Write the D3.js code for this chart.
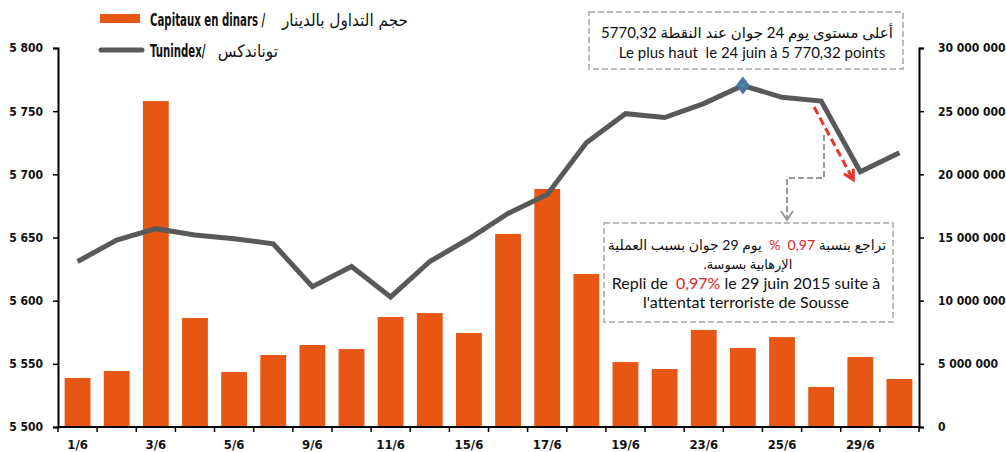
<!DOCTYPE html>
<html>
<head>
<meta charset="utf-8">
<script src="https://cdn.jsdelivr.net/npm/d3@7"></script>
<style>
  body { margin: 0; background: #fff; }
  svg { display: block; }
  .cond { font-family: "Liberation Sans Narrow", "DejaVu Sans Condensed", "DejaVu Sans", sans-serif; font-stretch: condensed; }
  .gill { font-family: "Lato", "Open Sans", "DejaVu Sans", sans-serif; }
  .pre { white-space: pre; }
</style>
</head>
<body>
<svg id="chart" width="1006" height="452"></svg>
<script>
// ---------- DATA ----------
const categories = ["1/6","2/6","3/6","4/6","5/6","8/6","9/6","10/6","11/6","12/6","15/6",
                    "16/6","17/6","18/6","19/6","22/6","23/6","24/6","25/6","26/6","29/6","30/6"];
const capitaux = [3.88e6, 4.43e6, 25.8e6, 8.63e6, 4.35e6, 5.70e6, 6.49e6, 6.17e6, 8.71e6, 9.02e6, 7.44e6,
                  15.28e6, 18.84e6, 12.11e6, 5.14e6, 4.59e6, 7.68e6, 6.25e6, 7.12e6, 3.17e6, 5.54e6, 3.80e6];
const tunindex = [5631, 5648, 5657, 5652, 5649, 5645, 5611, 5627, 5603, 5631, 5649,
                  5669, 5684, 5725, 5748, 5745, 5756, 5770.32, 5761, 5758, 5702, 5717];
const shownLabels = ["1/6","3/6","5/6","9/6","11/6","15/6","17/6","19/6","23/6","25/6","29/6"];
const leftTicks = [5500, 5550, 5600, 5650, 5700, 5750, 5800];
const rightTicks = [0, 5e6, 10e6, 15e6, 20e6, 25e6, 30e6];
const legendBarsFr = "Capitaux en dinars /", legendBarsAr = "حجم التداول بالدينار";
const legendLineFr = "Tunindex/", legendLineAr = "توناندكس";
const peakLabel = "24/6";
const peakAr = "أعلى مستوى يوم 24 جوان عند النقطة 5770,32";
const peakFr = "Le plus haut\u00A0 le 24 juin à 5 770,32 points";
const dropFrom = "26/6", dropTo = "29/6";

// ---------- LAYOUT ----------
const svg = d3.select("#chart");
const L = 58, R = 919, T = 48, B = 427;
const x = d3.scaleBand().domain(categories).range([L, R]).padding(0);
const yL = d3.scaleLinear().domain([5500, 5800]).range([B, T]);
const yR = d3.scaleLinear().domain([0, 30e6]).range([B, T]);
const bw = x.bandwidth();
const cx = d => x(d) + bw / 2;
const fmt = v => d3.format(",")(v).replace(/,/g, " ");

// bars
svg.append("g").selectAll("rect").data(categories).join("rect")
  .attr("x", d => x(d) + bw * 0.17)
  .attr("width", bw * 0.66)
  .attr("y", (d, i) => yR(capitaux[i]))
  .attr("height", (d, i) => B - yR(capitaux[i]))
  .attr("fill", "#e85614");

// line
const line = d3.line().x((d, i) => cx(categories[i])).y(d => yL(d));
svg.append("path").datum(tunindex)
  .attr("d", line).attr("fill", "none")
  .attr("stroke", "#595959").attr("stroke-width", 5);

// axes
const axL = svg.append("g").attr("transform", `translate(${L},0)`)
  .call(d3.axisLeft(yL).tickValues(leftTicks).tickSize(5).tickSizeOuter(5).tickFormat(fmt).tickPadding(10));
const axR = svg.append("g").attr("transform", `translate(${R},0)`)
  .call(d3.axisRight(yR).tickValues(rightTicks).tickSize(5).tickSizeOuter(5).tickFormat(fmt).tickPadding(14));
[axL, axR].forEach(a => {
  a.select(".domain").attr("stroke", "#000").attr("stroke-width", 2);
  a.selectAll(".tick line").attr("stroke", "#000").attr("stroke-width", 1.5);
  a.selectAll("text").attr("class", "cond").attr("font-size", 12).attr("fill", "#111")
    .attr("font-weight", "bold");
});
axR.selectAll("text").attr("text-anchor", "start");

// bottom axis
const gx = svg.append("g");
gx.append("line").attr("x1", L).attr("x2", R).attr("y1", B).attr("y2", B)
  .attr("stroke", "#000").attr("stroke-width", 2);
gx.selectAll("line.tk").data(categories.concat(["__end"])).join("line").attr("class", "tk")
  .attr("x1", d => d === "__end" ? R : x(d)).attr("x2", d => d === "__end" ? R : x(d))
  .attr("y1", B).attr("y2", B + 5).attr("stroke", "#000").attr("stroke-width", 1.5);
gx.selectAll("text").data(shownLabels).join("text")
  .attr("class", "cond").attr("font-size", 13).attr("font-weight", "bold").attr("fill", "#111")
  .attr("x", d => cx(d)).attr("y", 449).attr("text-anchor", "middle").text(d => d);

// peak marker
const px = cx(peakLabel), py = yL(tunindex[categories.indexOf(peakLabel)]);
svg.append("path").attr("d", `M${px},${py-9} L${px+7},${py} L${px},${py+9} L${px-7},${py} Z`)
  .attr("fill", "#4a74a8");
svg.append("circle").attr("cx", px).attr("cy", py).attr("r", 1.4).attr("fill", "#4caf50");

// legend
function legendLabel(yb, fr) {
  svg.append("text").attr("class", "cond").attr("font-size", 18).attr("font-weight", "bold")
    .attr("transform", `translate(150,${yb}) scale(0.63,1)`)
    .attr("fill", "#111").text(fr);
}
svg.append("rect").attr("x", 100).attr("y", 14).attr("width", 40).attr("height", 9).attr("fill", "#e85614");
legendLabel(26, legendBarsFr);
svg.append("text").attr("class", "cond").attr("x", 408).attr("y", 26).attr("font-size", 17)
  .attr("text-anchor", "end").attr("fill", "#111").text(legendBarsAr);
svg.append("line").attr("x1", 101).attr("x2", 142).attr("y1", 50).attr("y2", 50)
  .attr("stroke", "#595959").attr("stroke-width", 5).attr("stroke-linecap", "round");
legendLabel(57, legendLineFr);
svg.append("text").attr("class", "cond").attr("x", 278).attr("y", 57).attr("font-size", 17)
  .attr("text-anchor", "end").attr("fill", "#111").text(legendLineAr);

// annotation box 1
svg.append("rect").attr("x", 589).attr("y", 12).attr("width", 314).attr("height", 57)
  .attr("fill", "#fff").attr("stroke", "#bbb").attr("stroke-width", 2).attr("stroke-dasharray", "6,3");
svg.append("text").attr("class", "gill").attr("x", 747).attr("y", 38).attr("font-size", 15)
  .attr("text-anchor", "middle").attr("direction", "rtl").attr("fill", "#111").text(peakAr);
svg.append("text").attr("class", "gill pre").attr("x", 752).attr("y", 58).attr("font-size", 15)
  .attr("text-anchor", "middle").attr("fill", "#111").text(peakFr);

// annotation box 2
svg.append("rect").attr("x", 604).attr("y", 223).attr("width", 289).attr("height", 99)
  .attr("fill", "#fff").attr("stroke", "#bbb").attr("stroke-width", 2).attr("stroke-dasharray", "6,3");
const red = "#e8202a";
const t1 = svg.append("text").attr("class", "gill pre").attr("x", 747).attr("y", 250).attr("font-size", 14)
  .attr("text-anchor", "middle").attr("direction", "rtl").attr("fill", "#111");
t1.append("tspan").text("تراجع بنسبة ");
t1.append("tspan").attr("fill", red).text("0,97");
t1.append("tspan").attr("fill", red).text("  % ");
t1.append("tspan").text(" يوم 29 جوان بسبب العملية");
svg.append("text").attr("class", "gill").attr("x", 748).attr("y", 269).attr("font-size", 13)
  .attr("text-anchor", "middle").attr("direction", "rtl").attr("fill", "#111").text("الإرهابية بسوسة.");
const t3 = svg.append("text").attr("class", "gill pre").attr("x", 746).attr("y", 289).attr("font-size", 16)
  .attr("text-anchor", "middle").attr("fill", "#111");
t3.append("tspan").text("Repli de  ");
t3.append("tspan").attr("fill", red).text("0,97%");
t3.append("tspan").text(" le 29 juin 2015 suite à");
svg.append("text").attr("class", "gill").attr("x", 746).attr("y", 308).attr("font-size", 16)
  .attr("text-anchor", "middle").attr("fill", "#111").text("l'attentat terroriste de Sousse");

// red dashed arrow (drop from 26/6 to 29/6)
const ax0 = cx(dropFrom) - 7, ay0 = yL(tunindex[categories.indexOf(dropFrom)]) + 6;
const ax1 = cx(dropTo) - 7, ay1 = yL(tunindex[categories.indexOf(dropTo)]) + 8;
svg.append("line").attr("x1", ax0).attr("y1", ay0).attr("x2", ax1).attr("y2", ay1)
  .attr("stroke", "#e8352a").attr("stroke-width", 3).attr("stroke-dasharray", "8,4");
const ang = Math.atan2(ay1 - ay0, ax1 - ax0);
const hl = 11;
svg.append("path")
  .attr("d", `M${ax1 - hl*Math.cos(ang - 0.5)},${ay1 - hl*Math.sin(ang - 0.5)} L${ax1},${ay1} L${ax1 - hl*Math.cos(ang + 0.5)},${ay1 - hl*Math.sin(ang + 0.5)}`)
  .attr("fill", "none").attr("stroke", "#e8352a").attr("stroke-width", 3);

// gray dashed connector
svg.append("path").attr("d", "M824,135 L824,178 L787,178 L787,220")
  .attr("fill", "none").attr("stroke", "#999").attr("stroke-width", 2).attr("stroke-dasharray", "6,3");
svg.append("path").attr("d", "M781,211 L787,220 L793,211")
  .attr("fill", "none").attr("stroke", "#999").attr("stroke-width", 2);
</script>
</body>
</html>
